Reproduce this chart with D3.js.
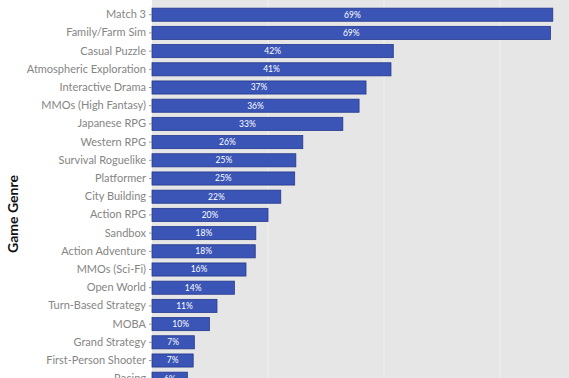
<!DOCTYPE html>
<html>
<head>
<meta charset="utf-8">
<script src="https://cdn.jsdelivr.net/npm/d3@7"></script>
<style>
  body { margin: 0; background: #fff; overflow: hidden; }
  svg { display: block; font-family: Lato, "Open Sans", sans-serif; }
</style>
</head>
<body>
<svg id="chart"></svg>
<script>
const genres = ["Match 3", "Family/Farm Sim", "Casual Puzzle", "Atmospheric Exploration",
  "Interactive Drama", "MMOs (High Fantasy)", "Japanese RPG", "Western RPG",
  "Survival Roguelike", "Platformer", "City Building", "Action RPG", "Sandbox",
  "Action Adventure", "MMOs (Sci-Fi)", "Open World", "Turn-Based Strategy", "MOBA",
  "Grand Strategy", "First-Person Shooter", "Racing"];
const shares = [69.1, 68.7, 41.6, 41.2, 36.9, 35.7, 32.9, 26, 24.8, 24.6, 22.2, 20,
  17.9, 17.8, 16.2, 14.2, 11.2, 9.9, 7.3, 7.1, 6.1];
const xTicks = [0, 20, 40, 60];

const width = 569;
const height = 378;

const svg = d3.select('#chart')
  .attr('width', width)
  .attr('height', height);

const x = d3.scaleLinear()
  .domain([0, 70])
  .range([152, 558]);

const y = d3.scaleBand()
  .domain(genres)
  .range([5.6, 5.6 + genres.length * 18.2])
  .paddingInner(0.28)
  .paddingOuter(0.14);

// panel background
svg.append('rect')
  .attr('x', x(0))
  .attr('y', 0)
  .attr('width', width - x(0))
  .attr('height', height)
  .attr('fill', '#e6e6e6');

// gridlines
svg.append('g')
  .selectAll('line')
  .data(xTicks.slice(1))
  .enter().append('line')
  .attr('x1', d => x(d))
  .attr('x2', d => x(d))
  .attr('y1', 0)
  .attr('y2', height)
  .attr('stroke', '#efefef')
  .attr('stroke-width', 1.2);

// bars
svg.append('g')
  .selectAll('rect')
  .data(genres)
  .enter().append('rect')
  .attr('x', x(0))
  .attr('y', d => y(d))
  .attr('width', (d, i) => x(shares[i]) - x(0))
  .attr('height', y.bandwidth())
  .attr('fill', '#3a55b6')
  .attr('stroke', '#26388c')
  .attr('stroke-width', 0.8);

// value labels
svg.append('g')
  .selectAll('text')
  .data(genres)
  .enter().append('text')
  .attr('x', (d, i) => (x(0) + x(shares[i])) / 2)
  .attr('y', d => y(d) + y.bandwidth() / 2)
  .attr('dy', '0.35em')
  .attr('text-anchor', 'middle')
  .attr('fill', '#fff')
  .style('font-size', '8.5px')
  .text((d, i) => Math.round(shares[i]) + '%');

// y axis
const yAxis = svg.append('g')
  .attr('transform', `translate(${x(0)},0)`)
  .call(d3.axisLeft(y).tickSize(3).tickPadding(3));
yAxis.select('.domain').remove();
yAxis.selectAll('line').attr('stroke', '#999');
yAxis.selectAll('text')
  .attr('fill', '#858585')
  .style('font-size', '11px')
  .style('font-family', 'Lato, sans-serif');

// axis title
svg.append('text')
  .attr('transform', 'translate(18,214) rotate(-90)')
  .attr('text-anchor', 'middle')
  .attr('fill', '#111')
  .style('font-size', '14px')
  .style('font-weight', 'bold')
  .text('Game Genre');
</script>
</body>
</html>
